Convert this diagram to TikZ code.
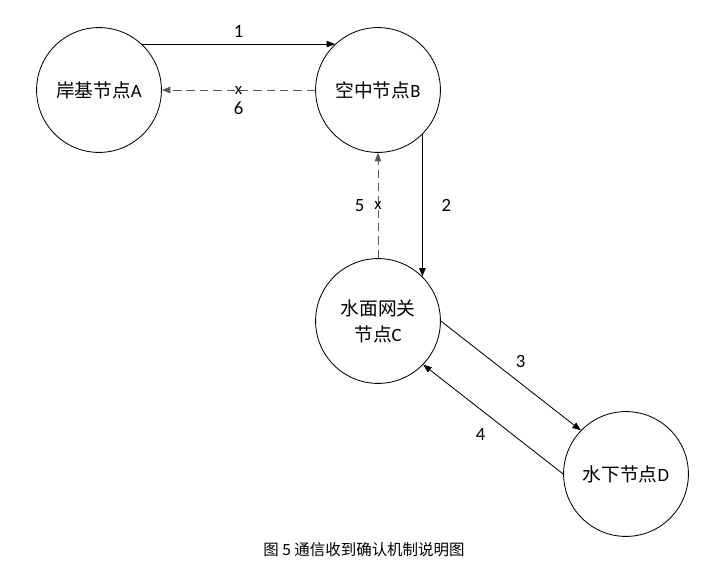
\documentclass[tikz,border=0pt]{standalone}
\usepackage{fontspec}
\setmainfont{Carlito}
\newfontfamily\cjk{Noto Sans CJK SC}
\usetikzlibrary{arrows.meta,positioning}

\tikzset{
  station/.style={circle,draw,line width=0.6pt,minimum size=3.12cm,inner sep=0pt,align=center},
  msg/.style={-{Triangle[length=6pt,width=4.6pt]},line width=0.6pt},
  lost/.style={msg,black!65,dash pattern=on 6pt off 3.5pt},
  lossmark/.style={inner sep=0pt,text=black,font=\fontsize{12}{12}\selectfont}
}

\begin{document}
\begin{tikzpicture}[x=0.025cm,y=-0.025cm,font=\fontsize{13.3}{18.5}\selectfont]
  \useasboundingbox (0,0) rectangle (709,564);
  % the four nodes
  \node[station] (A) at (99,90) {{\cjk 岸基节点}A};
  \node[station] (B) at (378,90) {{\cjk 空中节点}B};
  \node[station] (C) at (378,321) {{\cjk 水面网关}\\{\cjk 节点}C};
  \node[station] (D) at (626,474) {{\cjk 水下节点}D};
  % messages that get through
  \draw[msg] (A.47) -- node[above=1pt] (n1) {1} (B.133);
  \draw[msg] (B.-45) -- node[right=10pt] (n2) {2} (C.45);
  \draw[msg] (C.east) -- node[above right=2pt and 0pt] (n3) {3} (D.136);
  \draw[msg] (D.west) -- node[below left=3pt and 2pt] (n4) {4} (C.-44);
  % acknowledgements that are lost
  \draw[lost] (B.west) -- node[lossmark] (x6) {x} node[below=5pt,text=black] (n6) {6} (A.east);
  \draw[lost] (C.north) -- node[lossmark] (x5) {x} node[left=6pt,text=black] (n5) {5} (B.south);
  % caption
  \node[font=\cjk\fontsize{11}{13}\selectfont] (cap) at (364,550) {图\ 5\ 通信收到确认机制说明图};
\end{tikzpicture}
\end{document}
